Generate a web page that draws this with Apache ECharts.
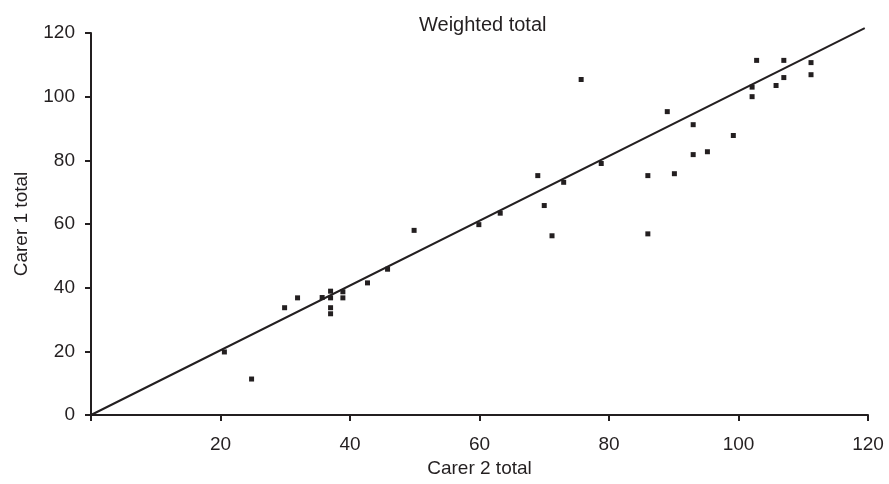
<!DOCTYPE html>
<html>
<head>
<meta charset="utf-8">
<script src="https://cdn.jsdelivr.net/npm/echarts@6/dist/echarts.min.js"></script>
<style>
  html, body { margin: 0; padding: 0; background: #fff; }
  #chart { width: 889px; height: 484px; }
</style>
</head>
<body>
<div id="chart"></div>
<script>
// Carer 2 total (x) and Carer 1 total (y)
const carer2 = [20.6, 24.8, 29.9, 31.9, 35.7, 37.0, 37.0, 37.0, 37.0, 38.9, 38.9, 42.7, 45.8, 49.9,
  59.9, 63.2, 69.0, 70.0, 71.2, 73.0, 75.7, 78.8, 86.0, 86.0, 89.0, 90.1, 93.0, 93.0, 95.2, 99.2,
  102.1, 102.1, 102.8, 105.8, 107.0, 107.0, 111.2, 111.2];
const carer1 = [19.8, 11.3, 33.7, 36.8, 36.9, 38.9, 36.8, 33.7, 31.8, 38.7, 36.8, 41.5, 45.8, 58.0,
  59.8, 63.4, 75.2, 65.8, 56.3, 73.1, 105.4, 79.0, 75.2, 56.9, 95.3, 75.8, 91.2, 81.8, 82.7, 87.8,
  103.0, 100.0, 111.4, 103.5, 111.4, 106.0, 110.7, 106.9];
// fitted line end points
const fitX = [0, 119.5];
const fitY = [0, 121.5];
const ticks = [0, 20, 40, 60, 80, 100, 120];

const ink = "#231f20";
const font = "Liberation Sans, Arial, sans-serif";

let points = carer2.map((x, i) => [x, carer1[i]]);
let fit = fitX.map((x, i) => [x, fitY[i]]);

let myChart = echarts.init(document.getElementById("chart"));
let option = {
  animation: false,
  textStyle: { fontFamily: font, color: ink },
  // title sits over the middle of the plot, not the page
  title: {
    text: "Weighted total",
    left: 414,
    top: 10,
    textStyle: { fontSize: 20, fontWeight: "normal", color: ink, fontFamily: font },
  },
  grid: { left: 91, right: 21, top: 33, bottom: 69, containLabel: false },
  xAxis: {
    type: "value",
    min: ticks[0],
    max: ticks[ticks.length - 1],
    interval: 20,
    name: "Carer 2 total",
    nameLocation: "middle",
    nameGap: 42,
    nameTextStyle: { fontSize: 19, color: ink, fontFamily: font },
    axisLine: { show: true, onZero: false, lineStyle: { color: ink, width: 2 } },
    axisTick: { show: true, length: 6, lineStyle: { color: ink, width: 2 } },
    axisLabel: {
      fontSize: 19, color: ink, margin: 20, fontFamily: font,
      formatter: (v) => (v === 0 ? "" : String(v)),
    },
    splitLine: { show: false },
  },
  yAxis: {
    type: "value",
    min: ticks[0],
    max: ticks[ticks.length - 1],
    interval: 20,
    name: "Carer 1 total",
    nameLocation: "middle",
    nameGap: 60,
    nameTextStyle: { fontSize: 19, color: ink, fontFamily: font },
    axisLine: { show: true, onZero: false, lineStyle: { color: ink, width: 2 } },
    axisTick: { show: true, length: 6, lineStyle: { color: ink, width: 2 } },
    axisLabel: { fontSize: 19, color: ink, margin: 16, fontFamily: font },
    splitLine: { show: false },
  },
  series: [
    {
      type: "line",
      data: fit,
      symbol: "none",
      clip: false,
      lineStyle: { color: ink, width: 2 },
      z: 2,
    },
    {
      type: "scatter",
      data: points,
      symbol: "rect",
      symbolSize: 5,
      itemStyle: { color: ink, opacity: 1 },
      z: 3,
    },
  ],
};
myChart.setOption(option);
</script>
</body>
</html>
